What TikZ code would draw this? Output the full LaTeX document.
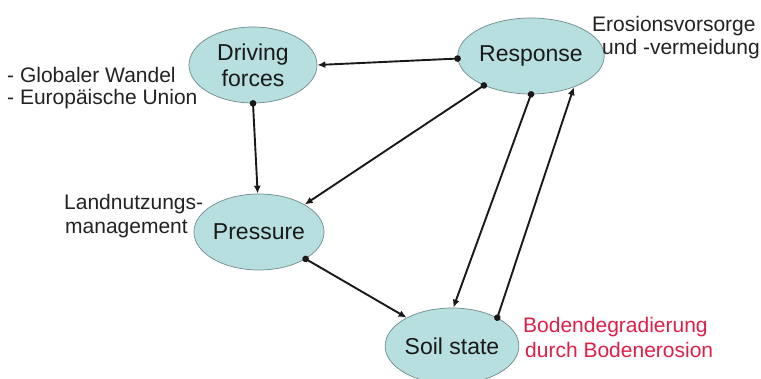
\documentclass[tikz,border=0pt]{standalone}
\usepackage{fontspec}
\setmainfont{Liberation Sans}
\usetikzlibrary{shapes.geometric,arrows.meta}
\definecolor{ellfill}{RGB}{184,223,223}
\definecolor{elldraw}{RGB}{110,140,140}
\definecolor{lblred}{RGB}{222,32,72}
\definecolor{lbltext}{RGB}{34,34,34}
\tikzset{
  ell/.style={ellipse,draw=elldraw,line width=0.7pt,fill=ellfill,minimum width=128pt,minimum height=76pt,inner sep=0pt,
    font=\fontsize{23}{26}\selectfont,text=black!90,align=center},
  lbl/.style={anchor=base west,inner sep=0pt,font=\fontsize{21}{24}\selectfont,text=lbltext},
  conn/.style={line width=1.9pt,draw=black!90,arrows={Circle[length=6.5pt]-Latex[length=8pt,width=7pt]},shorten <=-3.25pt}
}
\begin{document}
\begin{tikzpicture}[x=1pt,y=-1pt]
\useasboundingbox (0,0) rectangle (761,379);
\fill[white] (0,0) rectangle (761,379);
\node[ell] (drv) at (253,65) {Driving\\forces};
\node[ell] (resp) at (531,56) {Response};
\node[ell] (pres) at (259,232) {Pressure};
\node[ell] (soil) at (452,346) {Soil state};

\draw[conn] (resp.182) -- (drv.0);
\draw[conn] (drv.-90) -- (pres.92);
\draw[conn] (resp.212) -- (pres.31);
\draw[conn] (pres.-30) -- (soil.148);
\draw[conn] (resp.-90) -- (soil.88);
\draw[conn] (soil.32) -- (resp.-36);

\node[lbl] (g1) at (7,83) {- Globaler Wandel};
\node[lbl] (g2) at (7,105) {- Europäische Union};
\node[lbl] (e1) at (592,32) {Erosionsvorsorge};
\node[lbl] (e2) at (602,55) {und -vermeidung};
\node[lbl] (l1) at (64,210) {Landnutzungs-};
\node[lbl] (l2) at (65,234) {management};
\node[lbl,text=lblred] (b1) at (523,333) {Bodendegradierung};
\node[lbl,text=lblred] (b2) at (525,358) {durch Bodenerosion};
\end{tikzpicture}
\end{document}
